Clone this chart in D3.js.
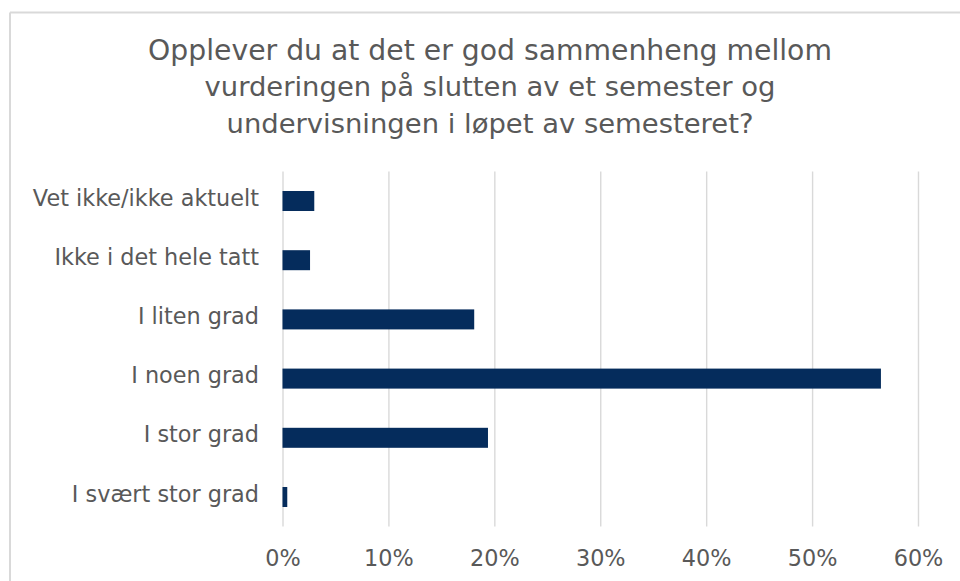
<!DOCTYPE html>
<html>
<head>
<meta charset="utf-8">
<script src="https://cdn.jsdelivr.net/npm/d3@7"></script>
<style>
  html, body { margin: 0; padding: 0; background: #fff; }
  svg { display: block; }
  text { font-family: "DejaVu Sans", sans-serif; fill: #595959; }
</style>
</head>
<body>
<svg id="chart" width="960" height="581"></svg>
<script>
// ---- data ----
const titleLines = [
  "Opplever du at det er god sammenheng mellom",
  "vurderingen på slutten av et semester og",
  "undervisningen i løpet av semesteret?"
];
const categories = [
  "Vet ikke/ikke aktuelt",
  "Ikke i det hele tatt",
  "I liten grad",
  "I noen grad",
  "I stor grad",
  "I svært stor grad"
];
const values = [3.0, 2.6, 18.1, 56.5, 19.4, 0.45];
const tickValues = [0, 10, 20, 30, 40, 50, 60];

// ---- layout ----
const svg = d3.select("#chart");
const W = 960, H = 581;

// outer border (top and left visible)
svg.append("line").attr("x1", 10).attr("x2", W).attr("y1", 12.5).attr("y2", 12.5)
  .attr("stroke", "#d9d9d9").attr("stroke-width", 2);
svg.append("line").attr("x1", 10).attr("x2", 10).attr("y1", 12.5).attr("y2", H)
  .attr("stroke", "#d9d9d9").attr("stroke-width", 2);

const x = d3.scaleLinear().domain([0, 60]).range([282.5, 918]);
const y = d3.scaleBand().domain(categories).range([171.4, 526.6])
  .paddingInner(0.662).paddingOuter(0.331);

// title
const titleTargets = [684, 571, 527];
const title = svg.append("g");
titleLines.forEach((t, i) => {
  const el = title.append("text")
    .attr("x", 490).attr("y", 59.5 + i * 36.8)
    .attr("text-anchor", "middle")
    .style("font-size", "28px")
    .text(t);
  const w = el.node().getComputedTextLength();
  el.style("font-size", (28 * titleTargets[i] / w).toFixed(2) + "px");
});

// gridlines + x axis labels
const xAxis = d3.axisBottom(x).tickValues(tickValues).tickFormat(d => d + "%").tickSize(0);
const gx = svg.append("g").attr("transform", "translate(0,526.6)").call(xAxis);
gx.select(".domain").remove();
gx.selectAll(".tick line").remove();
gx.selectAll(".tick").append("line")
  .attr("y1", 0).attr("y2", -(526.6 - 171.4))
  .attr("stroke", "#d9d9d9").attr("stroke-width", 1.4);
gx.selectAll(".tick text")
  .attr("y", 39.4).attr("dy", null)
  .style("font-size", "18.3px")
  .attr("fill", "#595959");

// bars
svg.append("g").selectAll("rect").data(categories).join("rect")
  .attr("x", x(0))
  .attr("y", d => y(d))
  .attr("width", (d, i) => x(values[i]) - x(0))
  .attr("height", y.bandwidth())
  .attr("fill", "#052c5c");

// y labels
const yAxis = d3.axisLeft(y).tickSize(0).tickPadding(0);
const gy = svg.append("g").attr("transform", "translate(259,0)").call(yAxis);
gy.select(".domain").remove();
gy.selectAll(".tick text")
  .attr("dy", null).attr("y", 4.6)
  .style("font-size", "18.3px")
  .attr("fill", "#595959");
// fit label widths (reference: "Vet ikke/ikke aktuelt" ≈ 226px)
const ref = gy.selectAll(".tick text").filter(d => d === categories[0]).node();
const rw = ref.getComputedTextLength();
const fs = (18.3 * 226 / rw);
gy.selectAll(".tick text").style("font-size", fs.toFixed(2) + "px");
gx.selectAll(".tick text").style("font-size", fs.toFixed(2) + "px");
</script>
</body>
</html>
